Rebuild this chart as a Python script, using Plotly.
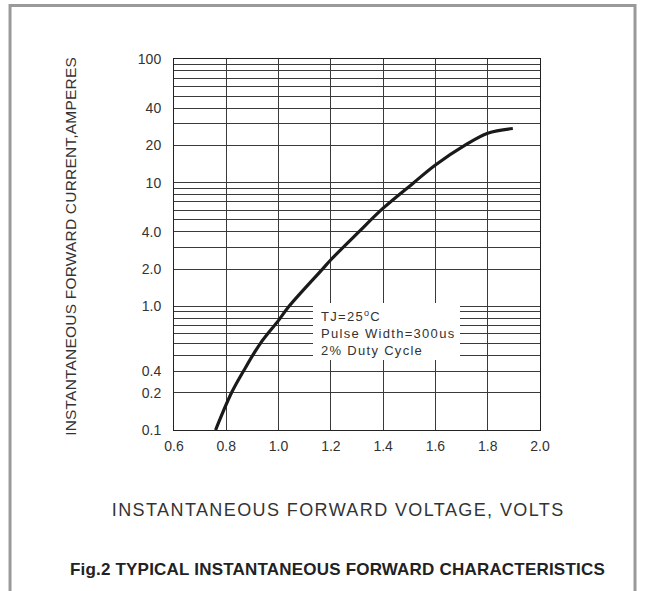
import plotly.graph_objects as go

# ---- data ----
voltage = [0.759, 0.82, 0.866, 0.930, 1.00, 1.040, 1.168, 1.20, 1.307, 1.40, 1.517, 1.60, 1.712, 1.80, 1.896]
current = [0.10, 0.20, 0.30, 0.50, 0.77, 1.00, 2.00, 2.38, 4.00, 6.22, 10.0, 13.9, 20.0, 25.1, 27.4]

x_tickvals = [0.6, 0.8, 1.0, 1.2, 1.4, 1.6, 1.8, 2.0]
x_ticktext = ["0.6", "0.8", "1.0", "1.2", "1.4", "1.6", "1.8", "2.0"]
y_tickvals = [0.1, 0.2, 0.3, 1, 2, 4, 10, 20, 40, 100]
y_ticktext = ["0.1", "0.2", "0.4", "1.0", "2.0", "4.0", "10", "20", "40", "100"]
y_minor = [m * d for d in (0.1, 1, 10) for m in range(2, 10)]

FONT = "Liberation Sans, Arial, Helvetica, sans-serif"
GRID = "#3a3a3a"

fig = go.Figure()
fig.add_trace(go.Scatter(
    x=voltage, y=current, mode="lines",
    line=dict(color="#1a1a1a", width=3.2, shape="spline", smoothing=1.0),
    hoverinfo="skip", showlegend=False,
))

fig.update_layout(
    width=646, height=591,
    margin=dict(l=174, r=106, t=59, b=161),
    paper_bgcolor="white", plot_bgcolor="white",
    font=dict(family=FONT, color="#333333"),
    showlegend=False,
)

fig.update_xaxes(
    range=[0.6, 2.0], tickvals=x_tickvals, ticktext=x_ticktext,
    showgrid=True, gridcolor=GRID, gridwidth=1,
    showline=True, linecolor="#222222", linewidth=1, mirror=True,
    ticks="", ticklabelstandoff=3, zeroline=False,
    tickfont=dict(size=14, color="#333333"),
)
fig.update_yaxes(
    type="log", range=[-1, 2], tickvals=y_tickvals, ticktext=y_ticktext,
    showgrid=True, gridcolor=GRID, gridwidth=1,
    minor=dict(tickvals=y_minor, showgrid=True, gridcolor=GRID, gridwidth=1, ticks=""),
    showline=True, linecolor="#222222", linewidth=1, mirror=True,
    ticks="", ticklabelstandoff=9, zeroline=False,
    tickfont=dict(size=14, color="#333333"),
)

# white box behind the test-condition note
fig.add_shape(type="rect", xref="paper", yref="paper",
              x0=0.3798, x1=0.7814, y0=0.1887, y1=0.3423,
              fillcolor="white", line=dict(width=0), layer="above")
# outer grey frame
fig.add_shape(type="rect", xref="paper", yref="paper",
              x0=-0.448, x1=1.2596, y0=-0.46, y1=1.144,
              line=dict(color="#9a9a9a", width=3), layer="above")

fig.add_annotation(  # y title
    text="INSTANTANEOUS FORWARD CURRENT,AMPERES", textangle=-90,
    xref="paper", yref="paper", x=-0.284, y=0.493,
    xanchor="center", yanchor="middle", showarrow=False,
    font=dict(size=15.5, color="#333333", family=FONT),
)
fig.add_annotation(  # x title
    text="INSTANTANEOUS FORWARD VOLTAGE, VOLTS",
    xref="paper", yref="paper", x=0.448, y=-0.2156,
    xanchor="center", yanchor="middle", showarrow=False,
    font=dict(size=18, color="#333333", family=FONT),
)
fig.add_annotation(  # caption
    text="<b>Fig.2 TYPICAL INSTANTANEOUS FORWARD CHARACTERISTICS</b>",
    xref="paper", yref="paper", x=0.448, y=-0.3747,
    xanchor="center", yanchor="middle", showarrow=False,
    font=dict(size=17, color="#222222", family=FONT),
)
fig.add_annotation(  # test conditions
    text="TJ=25<sup>o</sup>C<br>Pulse Width=300us<br>2% Duty Cycle",
    xref="paper", yref="paper", x=0.3962, y=0.2615,
    xanchor="left", yanchor="middle", align="left", showarrow=False,
    font=dict(size=13, color="#333333", family=FONT),
)

post_script = """
document.body.style.margin = '0';
var gd = document.getElementById('{plot_id}');
function sp(){
  var s = ['0.2px','1.4px','0.2px','1.3px'];
  gd.querySelectorAll('.annotation-text').forEach(function(t,i){ if(s[i]) t.style.letterSpacing = s[i]; });
}
sp();
gd.on('plotly_afterplot', sp);
"""

fig.write_html("out.html", post_script=post_script, config={"displayModeBar": False})
